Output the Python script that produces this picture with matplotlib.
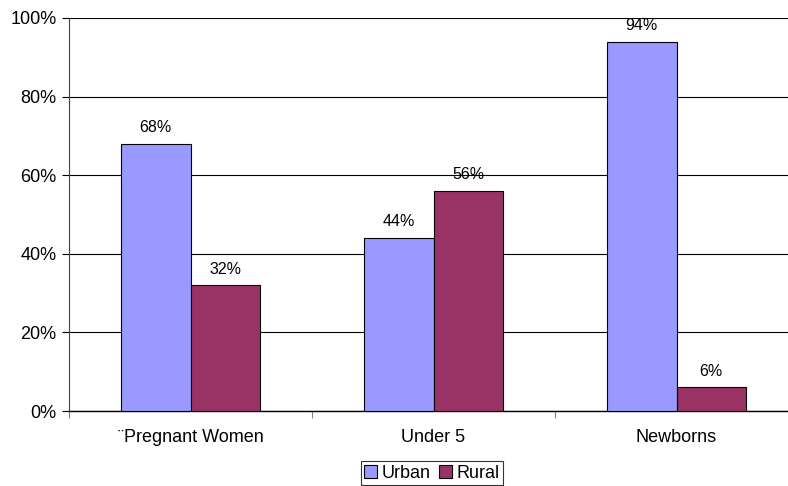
import matplotlib
matplotlib.use("Agg")
import matplotlib.pyplot as plt
import numpy as np
from matplotlib.ticker import FuncFormatter

categories = ["¨Pregnant Women", "Under 5", "Newborns"]
urban = [68, 44, 94]
rural = [32, 56, 6]
series_names = ["Urban", "Rural"]
yticks = [0, 20, 40, 60, 80, 100]

plt.rcParams['font.family'] = ['Liberation Sans', 'DejaVu Sans']

W, H = 788, 486
fig = plt.figure(figsize=(W/100, H/100), dpi=100)
left, right, top, bottom = 69, 798, 18, 411
ax = fig.add_axes([left/W, 1-bottom/H, (right-left)/W, (bottom-top)/H])

x = np.arange(len(categories))
bw = 0.285
b1 = ax.bar(x - bw/2, urban, bw, color="#9999FF", edgecolor="black", linewidth=0.8, label=series_names[0], zorder=3)
b2 = ax.bar(x + bw/2, rural, bw, color="#993366", edgecolor="black", linewidth=0.8, label=series_names[1], zorder=3)

for bars, vals in ((b1, urban), (b2, rural)):
    for r, v in zip(bars, vals):
        ax.text(r.get_x() + r.get_width()/2, v + 2.2, f"{v}%", ha="center", va="bottom", fontsize=11.5)

ax.set_xlim(-0.5, len(categories) - 0.5)
ax.set_ylim(0, 100)
ax.set_yticks(yticks)
ax.yaxis.set_major_formatter(FuncFormatter(lambda v, p: f"{int(v)}%"))
ax.yaxis.grid(True, color="black", linewidth=0.8, zorder=0)
ax.set_axisbelow(True)

ax.set_xticks(x)
ax.set_xticklabels(categories, fontsize=13)
ax.set_xticks(np.arange(len(categories) + 1) - 0.5, minor=True)
ax.tick_params(axis="x", which="major", length=0, pad=13)
ax.tick_params(axis="x", which="minor", length=5, width=0.8, color="gray")
ax.tick_params(axis="y", length=5, width=0.8, labelsize=13, pad=4)

for s in ("top", "right"):
    ax.spines[s].set_visible(False)
ax.spines["left"].set_color("#404040")
ax.spines["bottom"].set_color("black")
ax.spines["left"].set_linewidth(0.8)
ax.spines["bottom"].set_linewidth(1.0)

leg = fig.legend(handles=[b1, b2], loc="center", bbox_to_anchor=(432/W, 1-473/H),
                 ncol=2, frameon=True, fancybox=False, edgecolor="black",
                 fontsize=13, handlelength=0.7, handleheight=0.7, handletextpad=0.25,
                 columnspacing=0.5, borderpad=0.2, borderaxespad=0)
leg.get_frame().set_linewidth(0.8)

fig.savefig("out.png", dpi=100)
